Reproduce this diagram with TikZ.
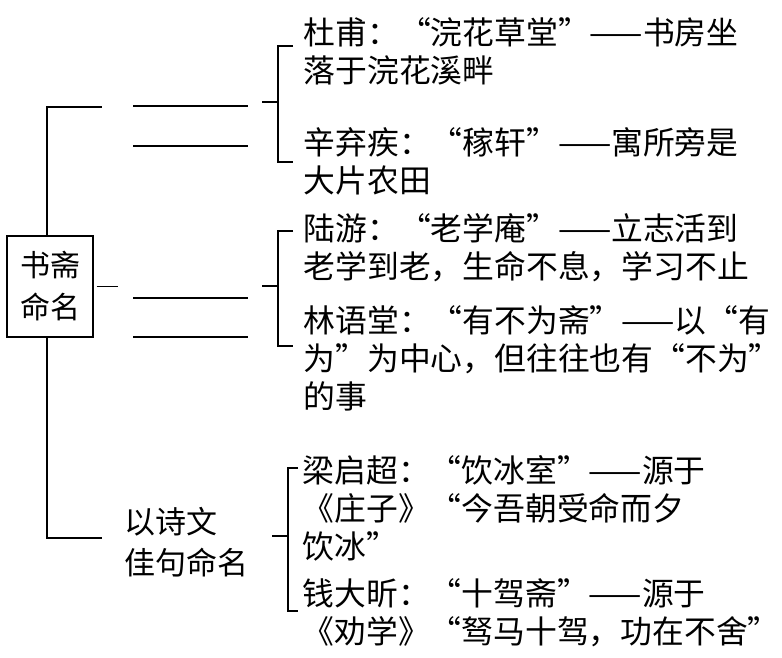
\documentclass[tikz,border=0pt]{standalone}
\usepackage{fontspec}
\setmainfont{Noto Sans CJK SC}
\usetikzlibrary{positioning}

\begin{document}
\begin{tikzpicture}[x=1pt,y=-1pt,line width=1.2pt,
        root/.style={draw, inner sep=0pt, minimum width=86pt, minimum height=101pt, align=center, font=\fontsize{30}{42}\selectfont},
        item/.style={anchor=west, inner sep=0pt, align=left, font=\fontsize{31.8}{38}\selectfont},
        mid/.style={anchor=west, inner sep=0pt, align=left, font=\fontsize{31}{41}\selectfont}
    ]
        \useasboundingbox (0,0) rectangle (782,657);
        \coordinate (trunk) at (47,0);

        \node[root] (shuzhai) at (50,286.5) {书斋\\命名};
        \node[mid] (shiwen) at (124,542) {以诗文\\佳句命名};

        \node[item] (dufu) at (303,51) {杜甫：“浣花草堂”——书房坐\\落于浣花溪畔};
        \node[item] (xin) at (303,161.5) {辛弃疾：“稼轩”——寓所旁是\\大片农田};
        \node[item] (luyou) at (303,247.5) {陆游：“老学庵”——立志活到\\老学到老，生命不息，学习不止};
        \node[item] (lin) at (303,358) {林语堂：“有不为斋”——以“有\\为”为中心，但往往也有“不为”\\的事};
        \node[item] (liang) at (302,508) {梁启超：“饮冰室”——源于\\《庄子》“今吾朝受命而夕\\饮冰”};
        \node[item] (qian) at (302,612.5) {钱大昕：“十驾斋”——源于\\《劝学》“驽马十驾，功在不舍”};

        % trunk
        \draw (shuzhai.north -| trunk) -- (47,107) -- (102,107);
        \draw (shuzhai.south -| trunk) -- (47,538) -- (102,538);
        \draw ([xshift=3pt]shuzhai.east) -- ++(21,0);

        % blanks
        \foreach \y in {106,146,298,337}
            \draw (133,\y) -- (248,\y);

        % brackets
        \draw (262,102) -- (278,102);
        \draw (293,46) -- (278,46) -- (278,162) -- (293,162);
        \draw (262,286) -- (278,286);
        \draw (293,231) -- (278,231) -- (278,346) -- (293,346);
        \draw (272,536) -- (288,536);
        \draw (298,468) -- (288,468) -- (288,611) -- (298,611);
    \end{tikzpicture}
\end{document}
